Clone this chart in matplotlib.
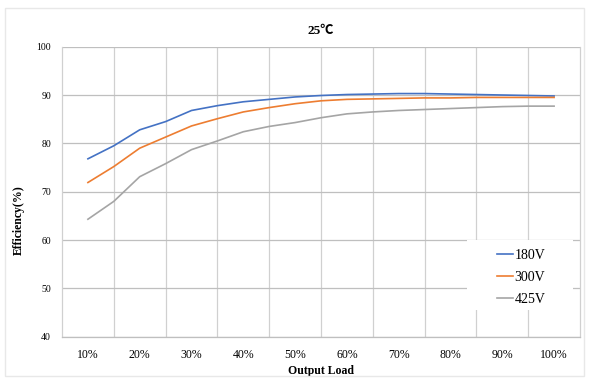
import matplotlib.pyplot as plt

# data
load = [10, 15, 20, 25, 30, 35, 40, 45, 50, 55, 60, 65, 70, 75, 80, 85, 90, 95, 100]
eff_180 = [76.8, 79.5, 82.8, 84.5, 86.8, 87.8, 88.6, 89.1, 89.6, 89.9, 90.1, 90.2,
           90.3, 90.3, 90.2, 90.1, 90.0, 89.9, 89.8]
eff_300 = [71.9, 75.2, 79.0, 81.3, 83.6, 85.1, 86.5, 87.4, 88.2, 88.8, 89.1, 89.2,
           89.3, 89.4, 89.4, 89.5, 89.5, 89.5, 89.5]
eff_425 = [64.3, 68.0, 73.1, 75.8, 78.7, 80.5, 82.4, 83.5, 84.3, 85.3, 86.1, 86.5,
           86.8, 87.0, 87.2, 87.4, 87.6, 87.7, 87.7]
xticks = [10, 20, 30, 40, 50, 60, 70, 80, 90, 100]
xlabels = ["10%", "20%", "30%", "40%", "50%", "60%", "70%", "80%", "90%", "100%"]
yticks = [40, 50, 60, 70, 80, 90, 100]

plt.rcParams["font.family"] = ["Liberation Serif", "DejaVu Serif"]

fig = plt.figure(figsize=(5.89, 3.78), dpi=100)
ax = fig.add_axes([0.1053, 0.1093, 0.8794, 0.7672])

ax.plot(load, eff_180, color="#4472C4", lw=1.2, label="180V", zorder=3)
ax.plot(load, eff_300, color="#ED7D31", lw=1.2, label="300V", zorder=3)
ax.plot(load, eff_425, color="#A5A5A5", lw=1.2, label="425V", zorder=3)

ax.set_xlim(5, 105)
ax.set_ylim(40, 100)
ax.set_xticks(xticks)
ax.set_xticklabels(xlabels, fontsize=8.5)
ax.set_xticks(range(15, 105, 10), minor=True)
ax.set_yticks(yticks)
ax.set_yticklabels([str(v) for v in yticks], fontsize=7)
ax.tick_params(which="both", length=0)
ax.tick_params(axis="x", pad=9)
ax.tick_params(axis="y", pad=8)

ax.grid(axis="y", which="major", color="#BFBFBF", lw=0.9)
ax.grid(axis="x", which="minor", color="#D0D0D0", lw=0.9)
ax.set_axisbelow(True)
for s in ax.spines.values():
    s.set_color("#BFBFBF")
    s.set_linewidth(0.9)
ax.spines["top"].set_visible(False)
ax.spines["left"].set_color("#D0D0D0")
ax.spines["right"].set_color("#D0D0D0")

ax.set_title("25℃", fontsize=9.5, fontweight="bold", pad=9,
             family=["Liberation Serif", "Noto Sans CJK SC"])
ax.set_xlabel("Output Load", fontsize=8.5, fontweight="bold", labelpad=3)
ax.set_ylabel("Efficiency(%)", fontsize=8.5, fontweight="bold")
ax.yaxis.set_label_coords(-0.071, 0.402)

# white box behind the legend, cutting the gridlines like the original
ax.add_patch(plt.Rectangle((0.782, 0.092), 0.204, 0.241, transform=ax.transAxes,
                           facecolor="white", edgecolor="none", zorder=1.5))
leg = ax.legend(loc="center left", bbox_to_anchor=(0.811, 0.205), fontsize=10,
                frameon=False, handlelength=1.15, handletextpad=0.1,
                labelspacing=0.65, borderpad=0.6)

# faint chart border
fig.patches.append(plt.Rectangle((0.008, 0.005), 0.984, 0.975, transform=fig.transFigure,
                                 fill=False, edgecolor="#E8E8E8", lw=1))

fig.savefig("out.png", dpi=100)
